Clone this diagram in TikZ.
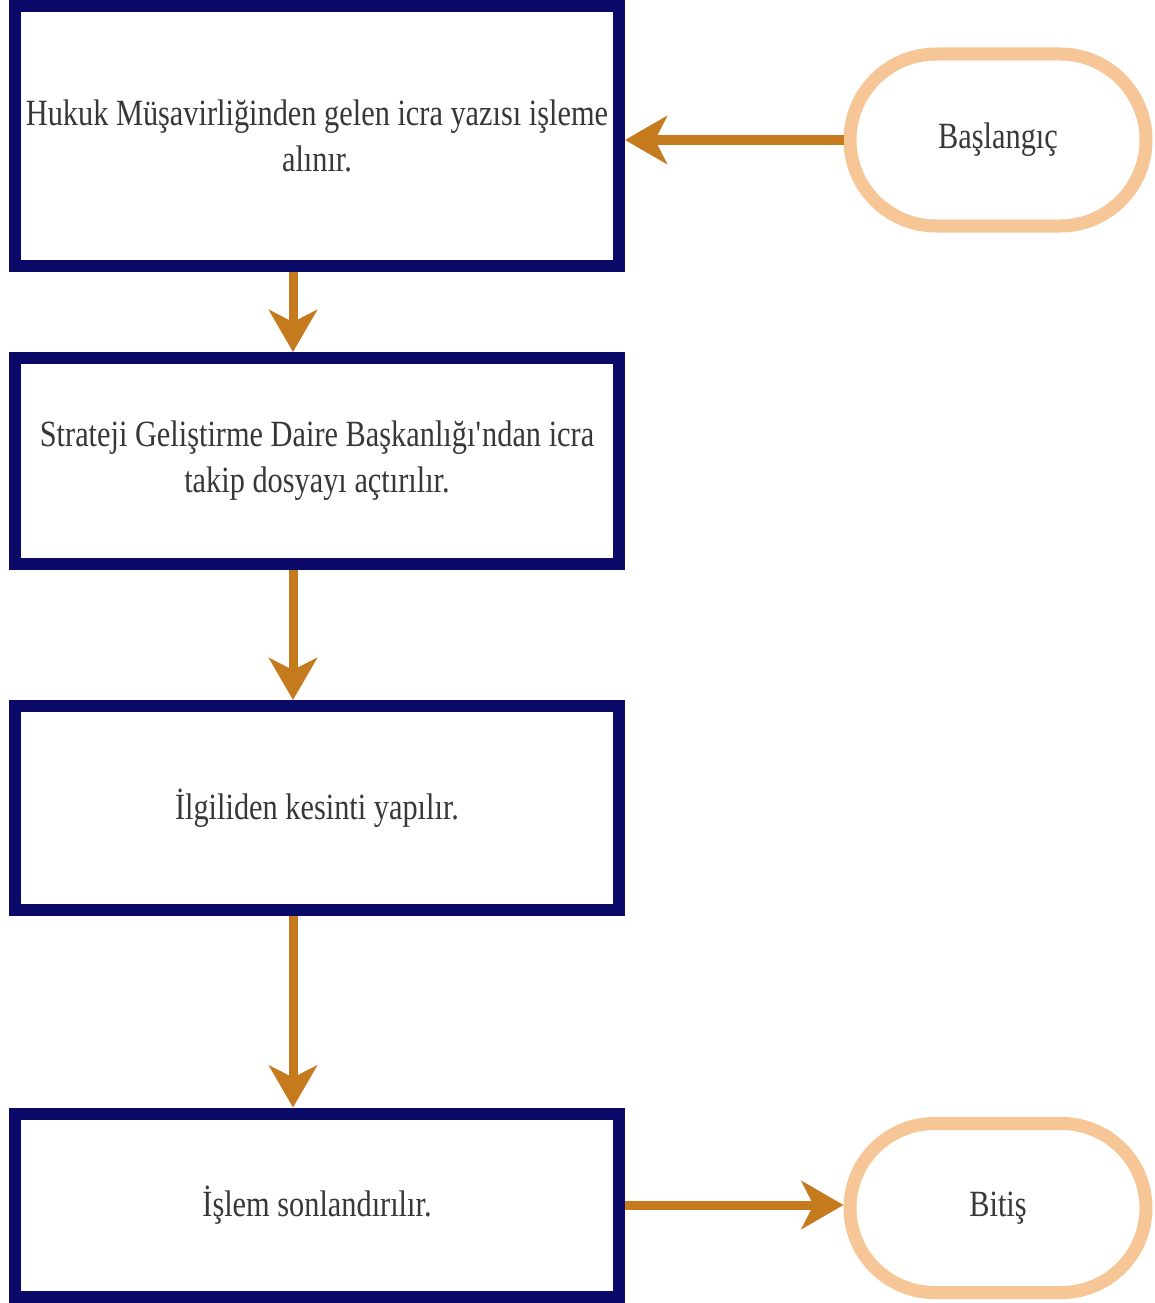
\documentclass[tikz,border=0pt]{standalone}
\usepackage{fontspec}
\setmainfont{Liberation Serif}[FakeStretch=0.82]
\usetikzlibrary{arrows.meta,shapes.misc}
\definecolor{navyb}{RGB}{12,10,105}
\definecolor{arrowc}{RGB}{198,122,30}
\definecolor{peach}{RGB}{246,198,150}
\definecolor{txt}{RGB}{55,55,55}
\tikzset{
  procbox/.style={draw=navyb, line width=12pt, fill=white, rectangle, minimum width=604pt, inner sep=0pt, align=center, text=txt, font=\fontsize{37}{46}\selectfont},
  termnode/.style={draw=peach, line width=13pt, fill=white, rounded rectangle, minimum width=296pt, inner sep=0pt, align=center, text=txt, font=\fontsize{37}{46}\selectfont},
  flowarrow/.style={draw=arrowc, line width=9pt, -{Stealth[length=42pt,width=48pt,inset=12pt]}}
}
\begin{document}
\begin{tikzpicture}[x=1pt,y=1pt]
\useasboundingbox (0,0) rectangle (1154,-1303);
\node[procbox, minimum height=260pt] (b1) at (317,-136) {Hukuk Müşavirliğinden gelen icra yazısı işleme\\alınır.};
\node[procbox, minimum height=206pt] (b2) at (317,-461) {Strateji Geliştirme Daire Başkanlığı\textquotesingle ndan icra\\takip dosyayı açtırılır.};
\node[procbox, minimum height=204pt] (b3) at (317,-808) {İlgiliden kesinti yapılır.};
\node[procbox, minimum height=183pt] (b4) at (317,-1205) {İşlem sonlandırılır.};
\node[termnode, minimum height=172pt] (start) at (998,-140) {Başlangıç};
\node[termnode, minimum height=169pt] (end) at (998,-1208) {Bitiş};
\coordinate (ax) at (293,0);
\draw[flowarrow] (start.west) -- (start.west -| b1.east);
\draw[flowarrow] (b1.south -| ax) -- (b2.north -| ax);
\draw[flowarrow] (b2.south -| ax) -- (b3.north -| ax);
\draw[flowarrow] (b3.south -| ax) -- (b4.north -| ax);
\draw[flowarrow] (b4.east) -- (b4.east -| end.west);
\end{tikzpicture}
\end{document}
